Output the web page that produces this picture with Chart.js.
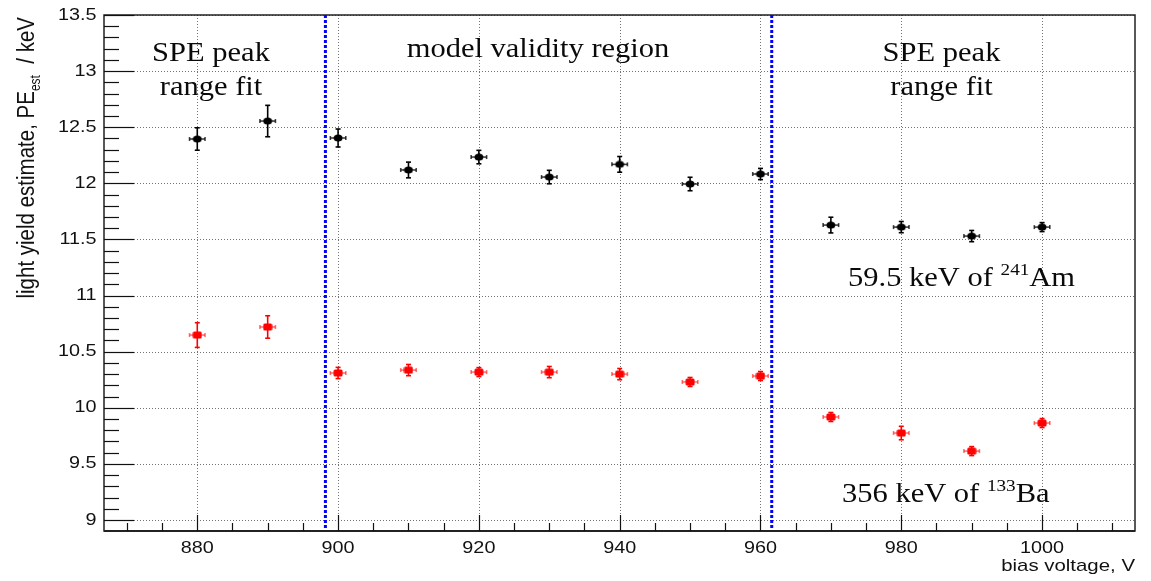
<!DOCTYPE html>
<html>
<head>
<meta charset="utf-8">
<script src="https://cdn.jsdelivr.net/npm/chart.js@4.4.0/dist/chart.umd.min.js"></script>
<style>
  html, body { margin: 0; padding: 0; background: #fff; }
</style>
</head>
<body>
<canvas id="lychart" width="1151" height="581"></canvas>
<script>
// data
const voltages = [880, 890, 900, 910, 920, 930, 940, 950, 960, 970, 980, 990, 1000];
const voltErr  = [1.1, 1.1, 1.1, 1.1, 1.1, 1.1, 1.1, 1.1, 1.1, 1.1, 1.1, 1.1, 1.1];
const amLY  = [12.395, 12.555, 12.404, 12.119, 12.234, 12.056, 12.169, 11.994, 12.083, 11.628, 11.61, 11.53, 11.61];
const amErr = [0.10, 0.14, 0.08, 0.07, 0.06, 0.06, 0.07, 0.06, 0.05, 0.07, 0.05, 0.05, 0.04];
const baLY  = [10.648, 10.72, 10.31, 10.336, 10.318, 10.318, 10.30, 10.23, 10.283, 9.918, 9.775, 9.614, 9.864];
const baErr = [0.11, 0.10, 0.05, 0.05, 0.04, 0.05, 0.05, 0.04, 0.04, 0.04, 0.06, 0.04, 0.04];
const xTicks = [880, 900, 920, 940, 960, 980, 1000];
const yTicks = [9, 9.5, 10, 10.5, 11, 11.5, 12, 12.5, 13, 13.5];
const cutLines = [898.2, 961.6]; // SPE fit / model validity borders

const SX = 1.2;      // the reference is stretched sideways
const SX_SERIF = 1.13;

// markers (slightly wide, like the picture)
function makeMarker(color, round) {
  const c = document.createElement('canvas');
  c.width = 10; c.height = 8;
  const g = c.getContext('2d');
  g.fillStyle = color;
  g.beginPath();
  if (round) g.ellipse(5, 4, 4.4, 3.6, 0, 0, Math.PI * 2);
  else g.roundRect(0.5, 0.5, 9, 7, 1.5);
  g.fill();
  return c;
}

function toPoints(ys) {
  return voltages.map((v, i) => ({ x: v, y: ys[i] }));
}

function stretchText(ctx, str, x, y, font, align, sx) {
  ctx.save();
  ctx.font = font;
  ctx.translate(x, y);
  ctx.scale(sx || SX, 1);
  ctx.textAlign = align;
  ctx.fillText(str, 0, 0);
  ctx.restore();
}

// text with a superscript, left aligned, stretched
function supText(ctx, parts, x, y) {
  ctx.save();
  ctx.translate(x, y);
  ctx.scale(SX_SERIF, 1);
  ctx.textAlign = 'left';
  let cx = 0;
  parts.forEach(p => {
    ctx.font = p.font;
    ctx.fillText(p.t, cx, p.dy || 0);
    cx += ctx.measureText(p.t).width;
  });
  ctx.restore();
}

function line(ctx, x1, y1, x2, y2) {
  ctx.beginPath();
  ctx.moveTo(x1, y1);
  ctx.lineTo(x2, y2);
  ctx.stroke();
}

const rootFrame = {
  id: 'rootFrame',
  beforeDatasetsDraw(chart) {
    const { ctx, chartArea: a, scales: { x, y } } = chart;
    ctx.save();
    // dotted grid
    ctx.strokeStyle = 'rgba(0,0,0,0.55)';
    ctx.lineWidth = 1;
    ctx.setLineDash([1, 2]);
    xTicks.forEach(v => {
      const px = Math.round(x.getPixelForValue(v)) + 0.5;
      line(ctx, px, a.top, px, a.bottom);
    });
    yTicks.forEach(v => {
      const py = Math.round(y.getPixelForValue(v)) + 0.5;
      line(ctx, a.left, py, a.right, py);
    });
    // blue region borders
    ctx.setLineDash([3, 2]);
    ctx.strokeStyle = '#0000ff';
    ctx.lineWidth = 3;
    cutLines.forEach(v => {
      const px = x.getPixelForValue(v);
      line(ctx, px, a.top, px, a.bottom);
    });
    ctx.setLineDash([]);

    // error bars
    function errBars(vals, errs, vcol, hcol) {
      vals.forEach((val, i) => {
        const px = x.getPixelForValue(voltages[i]);
        const py = y.getPixelForValue(val);
        const top = y.getPixelForValue(val + errs[i]);
        const bot = y.getPixelForValue(val - errs[i]);
        const lft = x.getPixelForValue(voltages[i] - voltErr[i]);
        const rgt = x.getPixelForValue(voltages[i] + voltErr[i]);
        ctx.lineWidth = 1.6;
        ctx.strokeStyle = vcol;
        line(ctx, px, top, px, bot);
        line(ctx, px - 2.5, top, px + 2.5, top);
        line(ctx, px - 2.5, bot, px + 2.5, bot);
        ctx.strokeStyle = hcol;
        line(ctx, lft, py, rgt, py);
        line(ctx, lft, py - 2, lft, py + 2);
        line(ctx, rgt, py - 2, rgt, py + 2);
      });
    }
    errBars(amLY, amErr, '#000', 'rgba(0,0,0,0.75)');
    errBars(baLY, baErr, '#ff0000', 'rgba(255,0,0,0.55)');
    ctx.restore();
  },
  afterDraw(chart) {
    const { ctx, chartArea: a, scales: { x, y } } = chart;
    ctx.save();
    // frame
    ctx.strokeStyle = '#222';
    ctx.lineWidth = 1.5;
    ctx.strokeRect(a.left, a.top, a.right - a.left, a.bottom - a.top);
    ctx.lineWidth = 2;
    line(ctx, a.left, a.bottom, a.right, a.bottom);

    // inward ticks
    ctx.lineWidth = 1.2;
    ctx.strokeStyle = '#111';
    for (let v = 870; v <= 1010; v += 5) {
      const px = Math.round(x.getPixelForValue(v)) + 0.5;
      const len = v % 20 === 0 ? 16 : 8;
      line(ctx, px, a.bottom, px, a.bottom - len);
    }
    for (let i = 90; i <= 135; i++) {
      const py = Math.round(y.getPixelForValue(i / 10)) + 0.5;
      const len = i % 5 === 0 ? 30 : 15;
      line(ctx, a.left, py, a.left + len, py);
    }

    // tick labels
    ctx.fillStyle = '#111';
    ctx.textBaseline = 'middle';
    xTicks.forEach(v => {
      stretchText(ctx, String(v), x.getPixelForValue(v), a.bottom + 17, '16.5px "Liberation Sans"', 'center');
    });
    yTicks.forEach(v => {
      stretchText(ctx, String(v), a.left - 7.5, y.getPixelForValue(v), '16.5px "Liberation Sans"', 'right');
    });

    // axis titles
    ctx.textBaseline = 'alphabetic';
    stretchText(ctx, 'bias voltage, V', a.right, a.bottom + 40, '17px "Liberation Sans"', 'right');

    ctx.save();
    ctx.translate(34, a.top + 2);
    ctx.rotate(-Math.PI / 2);
    ctx.scale(1, SX);
    const yParts = [
      { t: 'light yield estimate, PE', font: '20.5px "Liberation Sans"' },
      { t: 'est', font: '12px "Liberation Sans"', dy: 5 },
      { t: '  / keV', font: '20.5px "Liberation Sans"' }
    ];
    let total = 0;
    yParts.forEach(p => { ctx.font = p.font; total += ctx.measureText(p.t).width; });
    let cx = -total;
    ctx.textAlign = 'left';
    yParts.forEach(p => {
      ctx.font = p.font;
      ctx.fillText(p.t, cx, p.dy || 0);
      cx += ctx.measureText(p.t).width;
    });
    ctx.restore();

    // annotations
    const serif = '27px "Liberation Serif"';
    ctx.fillStyle = '#0a0a0a';
    stretchText(ctx, 'SPE peak', 211, 61, serif, 'center', SX_SERIF);
    stretchText(ctx, 'range fit', 211, 95, serif, 'center', SX_SERIF);
    stretchText(ctx, 'model validity region', 538, 57, serif, 'center', SX_SERIF);
    stretchText(ctx, 'SPE peak', 941.5, 61, serif, 'center', SX_SERIF);
    stretchText(ctx, 'range fit', 941.5, 95, serif, 'center', SX_SERIF);
    supText(ctx, [
      { t: '59.5 keV of ', font: serif },
      { t: '241', font: '17px "Liberation Serif"', dy: -11 },
      { t: 'Am', font: serif }
    ], 848, 285.5);
    supText(ctx, [
      { t: '356 keV of ', font: serif },
      { t: '133', font: '17px "Liberation Serif"', dy: -11 },
      { t: 'Ba', font: serif }
    ], 842, 501.5);
    ctx.restore();
  }
};

const ctx = document.getElementById('lychart').getContext('2d');
const lychart = new Chart(ctx, {
  type: 'scatter',
  data: {
    datasets: [
      {
        label: '59.5 keV of 241Am',
        data: toPoints(amLY),
        pointStyle: makeMarker('#000', true),
        pointRadius: 4,
        showLine: false
      },
      {
        label: '356 keV of 133Ba',
        data: toPoints(baLY),
        pointStyle: makeMarker('#ff0000', false),
        pointRadius: 4,
        showLine: false
      }
    ]
  },
  options: {
    responsive: false,
    animation: false,
    devicePixelRatio: 1,
    layout: { padding: { left: 0, right: 16, top: 15, bottom: 0 } },
    plugins: {
      legend: { display: false },
      tooltip: { enabled: false }
    },
    scales: {
      x: {
        type: 'linear',
        min: 866.75,
        max: 1013.2,
        afterBuildTicks: s => { s.ticks = xTicks.map(v => ({ value: v })); },
        afterFit: s => { s.height = 50; },
        grid: { display: false, drawTicks: false },
        border: { display: false },
        ticks: { display: false }
      },
      y: {
        type: 'linear',
        min: 8.902,
        max: 13.5,
        afterBuildTicks: s => { s.ticks = yTicks.map(v => ({ value: v })); },
        afterFit: s => { s.width = 104; },
        grid: { display: false, drawTicks: false },
        border: { display: false },
        ticks: { display: false }
      }
    }
  },
  plugins: [rootFrame]
});
</script>
</body>
</html>
